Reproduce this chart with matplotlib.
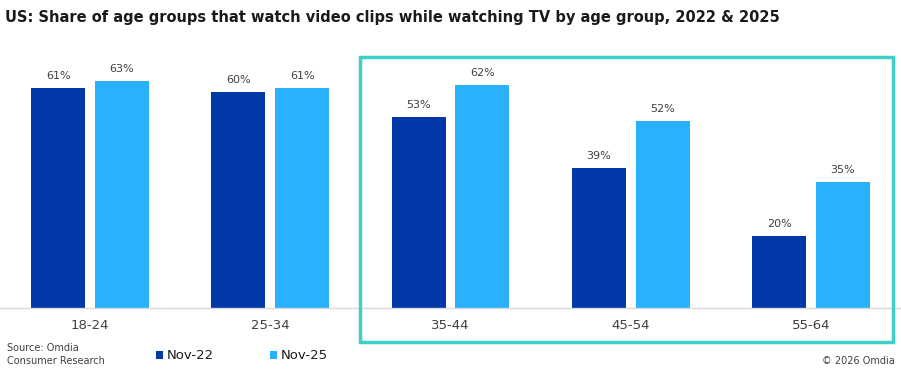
import numpy as np
import matplotlib.pyplot as plt
from matplotlib.patches import Rectangle

# data
age_groups = ["18-24", "25-34", "35-44", "45-54", "55-64"]
nov22 = [61, 60, 53, 39, 20]
nov25 = [63, 61, 62, 52, 35]
series_names = ["Nov-22", "Nov-25"]

dark = "#0038A8"
light = "#29B1FD"
teal = "#3ECFC6"
grey_txt = "#404040"

fig = plt.figure(figsize=(9.01, 3.70), dpi=100)
ax = fig.add_axes([0, 62 / 370, 1, 270 / 370])

x = np.arange(len(age_groups))
w = 0.30
b1 = ax.bar(x - 0.177, nov22, w, color=dark, label=series_names[0])
b2 = ax.bar(x + 0.177, nov25, w, color=light, label=series_names[1])
ax.bar_label(b1, labels=[f"{v}%" for v in nov22], padding=5, fontsize=8, color=grey_txt)
ax.bar_label(b2, labels=[f"{v}%" for v in nov25], padding=5, fontsize=8, color=grey_txt)

ax.set_xlim(-0.5, 4.5)
ax.set_ylim(0, 75)
ax.set_yticks([])
ax.set_xticks(x)
ax.set_xticklabels(age_groups, fontsize=9.5, color=grey_txt)
ax.tick_params(axis="x", length=0, pad=8)
for s in ["top", "right", "left"]:
    ax.spines[s].set_visible(False)
ax.spines["bottom"].set_color("#d9d9d9")
ax.spines["bottom"].set_linewidth(1)
ax.patch.set_alpha(0)

# highlight box around the older age groups
fig.patches.append(Rectangle((360 / 901, 28 / 370), 533 / 901, 285 / 370,
                             transform=fig.transFigure, fill=False,
                             edgecolor=teal, linewidth=2.5))

fig.text(0.006, 0.953, "US: Share of age groups that watch video clips while watching TV by age group, 2022 & 2025",
         fontsize=11.7, fontweight="bold", family="DejaVu Sans", stretch="condensed",
         color="#1a1a1a", va="center")

fig.text(0.008, 0.042, "Source: Omdia\nConsumer Research", fontsize=7, color=grey_txt,
         va="center", linespacing=1.3)
fig.text(0.993, 0.024, "\u00a9 2026 Omdia", fontsize=7, color=grey_txt, ha="right", va="center")

# legend
fig.legend(handles=[b1, b2], labels=series_names, loc="center left",
           bbox_to_anchor=(144 / 901, 0.038), ncol=2, frameon=False,
           fontsize=9.5, handlelength=0.55, handleheight=0.55, handletextpad=0.3,
           columnspacing=4.2, labelcolor="#1a1a1a")

fig.savefig("out.png", dpi=100)
